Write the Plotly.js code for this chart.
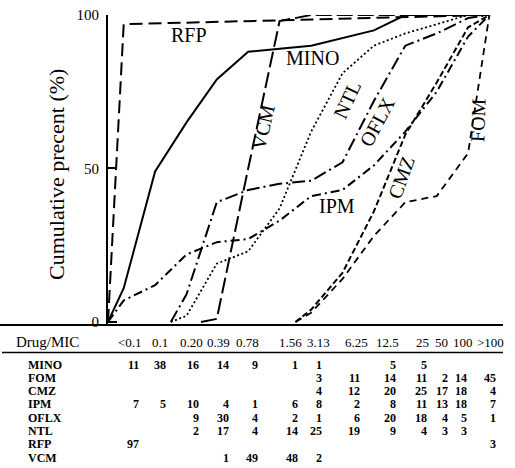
<!DOCTYPE html>
<html><head><meta charset="utf-8">
<script src="https://cdn.plot.ly/plotly-3.0.1.min.js"></script>
<style>html,body{margin:0;padding:0;background:#fff}</style>
</head><body>
<div id="chart" style="width:515px;height:468px"></div>
<script>
// ---------------- data ----------------
const micLabels = ['<0.1','0.1','0.20','0.39','0.78','1.56','3.13','6.25','12.5','25','50','100','>100'];
// numeric MIC of each column for the log axis (<0.1 and >100 are open-ended stand-ins)
const micValues = [0.05,0.1,0.2,0.39,0.78,1.56,3.13,6.25,12.5,25,50,100,160];
const drugs = ['MINO','FOM','CMZ','IPM','OFLX','NTL','RFP','VCM'];
const MINO = [11,38,16,14,9,1,1,null,5,5,null,null,null];
const FOM  = [null,null,null,null,null,null,3,11,14,11,2,14,45];
const CMZ  = [null,null,null,null,null,null,4,12,20,25,17,18,4];
const IPM  = [7,5,10,4,1,6,8,2,8,11,13,18,7];
const OFLX = [null,null,9,30,4,2,1,6,20,18,4,5,1];
const NTL  = [null,null,2,17,4,14,25,19,9,4,3,3,null];
const RFP  = [97,null,null,null,null,null,null,null,null,null,null,null,3];
const VCM  = [null,null,null,1,49,48,2,null,null,null,null,null,null];
const drugData = {MINO, FOM, CMZ, IPM, OFLX, NTL, RFP, VCM};
const yTitle = 'Cumulative precent (%)';
const tableHeader = 'Drug/MIC';

// ---------------- styles / layout ----------------
const FONT = 'Liberation Serif, Times New Roman, serif';
const L = 108, R = 503, T = 15, B = 325;           // plot area in pixels
const px = x => (x - L) / (R - L);
const py = y => (B - y) / (B - T);

const lineStyle = {
  MINO: {dash: 'solid', width: 2},
  FOM:  {dash: '7px,5px', width: 1.8},
  CMZ:  {dash: '6px,3px', width: 2},
  IPM:  {dash: '9px,4px,2px,4px', width: 2},
  OFLX: {dash: '13px,4px,2px,4px', width: 2},
  NTL:  {dash: '2px,2.5px', width: 1.8},
  RFP:  {dash: '13px,6px', width: 2},
  VCM:  {dash: '16px,5px', width: 2}
};
// curve label placement (pixel centre, angle)
const curveLabel = {
  RFP:  [189, 35, 0],
  MINO: [312, 58, 0],
  IPM:  [337, 206, 0],
  VCM:  [263, 127, -77],
  NTL:  [347, 100, -65],
  OFLX: [377, 122, -62],
  CMZ:  [401, 178, -70],
  FOM:  [478, 120, -88]
};
const headerCenter = [130,159.5,191.5,218.5,247.5,290,318,356.5,387,422.5,441,463,490];
const colRight = [140,167,200,230,259,299,323,361,397,428,449,468,497];
const rowY0 = 364.5, rowStep = 13.3, headerY = 342;

// ---------------- build ----------------
function cumulative(vals) {
  const xs = [], ys = [];
  const first = vals.findIndex(v => v != null);
  xs.push(micValues[first] / Math.SQRT2); ys.push(0);
  let s = 0;
  vals.forEach((v, i) => { if (v != null) { s += v; xs.push(micValues[i]); ys.push(s); } });
  const last = micValues.length - 1;
  if (xs[xs.length - 1] !== micValues[last]) { xs.push(micValues[last]); ys.push(s); }
  return {xs, ys};
}

const traces = drugs.map(d => {
  const c = cumulative(drugData[d]);
  return {x: c.xs, y: c.ys, type: 'scatter', mode: 'lines', name: d,
          line: {color: '#000', width: lineStyle[d].width, dash: lineStyle[d].dash},
          hoverinfo: 'skip', showlegend: false};
});

const ann = [];
drugs.forEach(d => {
  const [x, y, a] = curveLabel[d];
  ann.push({xref: 'paper', yref: 'paper', x: px(x), y: py(y), text: d, showarrow: false,
            textangle: a, xanchor: 'center', yanchor: 'middle',
            font: {family: FONT, size: 20, color: '#000'}});
});
ann.push({xref: 'paper', yref: 'paper', x: px(56), y: py(175), text: yTitle, showarrow: false,
          textangle: -90, xanchor: 'center', yanchor: 'middle',
          font: {family: FONT, size: 22, color: '#000'}});
// table header
ann.push({xref: 'paper', yref: 'paper', x: px(15), y: py(headerY), text: tableHeader, showarrow: false,
          xanchor: 'left', yanchor: 'middle', borderpad: 0, font: {family: FONT, size: 15, color: '#000'}});
micLabels.forEach((m, i) => {
  ann.push({xref: 'paper', yref: 'paper', x: px(headerCenter[i]), y: py(headerY),
            text: m.replace('<', '&lt;').replace('>', '&gt;'),
            showarrow: false, xanchor: 'center', yanchor: 'middle', borderpad: 0,
            font: {family: FONT, size: 13, color: '#000'}});
});
drugs.forEach((d, r) => {
  const y = rowY0 + r * rowStep;
  ann.push({xref: 'paper', yref: 'paper', x: px(27), y: py(y), text: d, showarrow: false,
            xanchor: 'left', yanchor: 'middle', borderpad: 0,
            font: {family: FONT, size: 12, color: '#000', weight: 'bold'}});
  drugData[d].forEach((v, i) => {
    if (v == null) return;
    ann.push({xref: 'paper', yref: 'paper', x: px(colRight[i]), y: py(y), text: String(v), showarrow: false,
              xanchor: 'right', yanchor: 'middle', borderpad: 0,
              font: {family: FONT, size: 12, color: '#000', weight: 'bold'}});
  });
});

const layout = {
  width: 515, height: 468,
  margin: {l: L, r: 515 - R, t: T, b: 468 - B, pad: 0},
  paper_bgcolor: '#fff', plot_bgcolor: '#fff',
  showlegend: false,
  xaxis: {type: 'log', range: [Math.log10(micValues[0] / Math.SQRT2), Math.log10(216)],
          visible: false, showgrid: false, zeroline: false},
  yaxis: {range: [-1, 100], tickvals: [0, 50, 100], ticktext: ['0', '50', '100'],
          ticks: 'inside', ticklen: 9, tickwidth: 2, tickcolor: '#000',
          showline: true, linewidth: 2, linecolor: '#000', showgrid: false, zeroline: false,
          ticklabelstandoff: 4,
          tickfont: {family: FONT, size: 15, color: '#000'}},
  shapes: [
    {type: 'line', xref: 'paper', yref: 'paper', x0: px(0), x1: px(503), y0: py(325), y1: py(325),
     line: {color: '#000', width: 2}},
    {type: 'line', xref: 'paper', yref: 'paper', x0: px(2), x1: px(503), y0: py(352.5), y1: py(352.5),
     line: {color: '#000', width: 1.5}}
  ],
  annotations: ann
};

Plotly.newPlot('chart', traces, layout, {staticPlot: true, displayModeBar: false});
</script>
</body></html>
